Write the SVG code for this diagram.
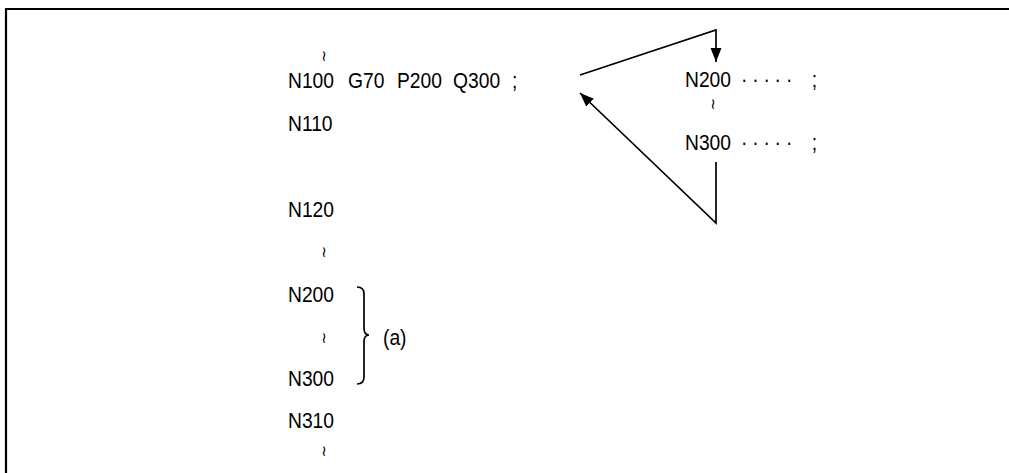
<svg xmlns="http://www.w3.org/2000/svg" width="1009" height="473" viewBox="0 0 1009 473">
<style>
.t{font-family:"Liberation Sans",Arial,sans-serif;font-size:22px;fill:#000}
.w{font-family:"DejaVu Sans",sans-serif;font-size:15px;fill:#000;text-anchor:middle}
.ln{fill:none;stroke:#000;stroke-width:1.7}
.fr{fill:none;stroke:#000;stroke-width:2.2}
</style>
<defs>
<marker id="ah" markerUnits="userSpaceOnUse" markerWidth="16" markerHeight="14" refX="14" refY="6" orient="auto" viewBox="0 0 16 12">
<path d="M0,0.5 L14,6 L0,11.5 Z" fill="#000"/>
</marker>
</defs>
<rect width="1009" height="473" fill="#fff"/>
<g id="frame">
<path class="fr" d="M6,473 L6,9 L1009,9"/>
</g>
<g id="main-program">
<text class="w" x="324" y="61">≀</text>
<text class="t" transform="translate(288,88) scale(0.875,1)"><tspan x="0">N100</tspan><tspan x="68.6">G70</tspan><tspan x="124.6">P200</tspan><tspan x="188.6">Q300</tspan><tspan x="256">;</tspan></text>
<text class="t" transform="translate(288,131) scale(0.875,1)">N110</text>
<text class="t" transform="translate(288,217) scale(0.875,1)">N120</text>
<text class="w" x="324" y="257">≀</text>
<text class="t" transform="translate(288,302) scale(0.875,1)">N200</text>
<text class="w" x="324" y="343">≀</text>
<text class="t" transform="translate(288,386) scale(0.875,1)">N300</text>
<text class="t" transform="translate(288,428) scale(0.875,1)">N310</text>
<text class="w" x="324" y="456">≀</text>
</g>
<g id="bracket-a">
<path class="ln" stroke-width="1.5" d="M357,287 C362,287 364,289 364,294 L364,328 C364,333 366,335 369,335 C366,335 364,337 364,342 L364,377 C364,382 362,384 357,384"/>
<text class="t" transform="translate(383,345) scale(0.875,1)">(a)</text>
</g>
<g id="cycle-block">
<text class="t" transform="translate(685,87) scale(0.875,1)"><tspan x="0">N200</tspan><tspan x="64 77 89.7 102.3 115.4">·····</tspan><tspan x="145">;</tspan></text>
<text class="w" x="713" y="109">≀</text>
<text class="t" transform="translate(685,150) scale(0.875,1)"><tspan x="0">N300</tspan><tspan x="64 77 89.7 102.3 115.4">·····</tspan><tspan x="145">;</tspan></text>
</g>
<g id="connectors">
<path class="ln" d="M580,75 L716,30 L716,62" marker-end="url(#ah)"/>
<path class="ln" d="M716,162 L716,223 L580,93" marker-end="url(#ah)"/>
</g>
</svg>
